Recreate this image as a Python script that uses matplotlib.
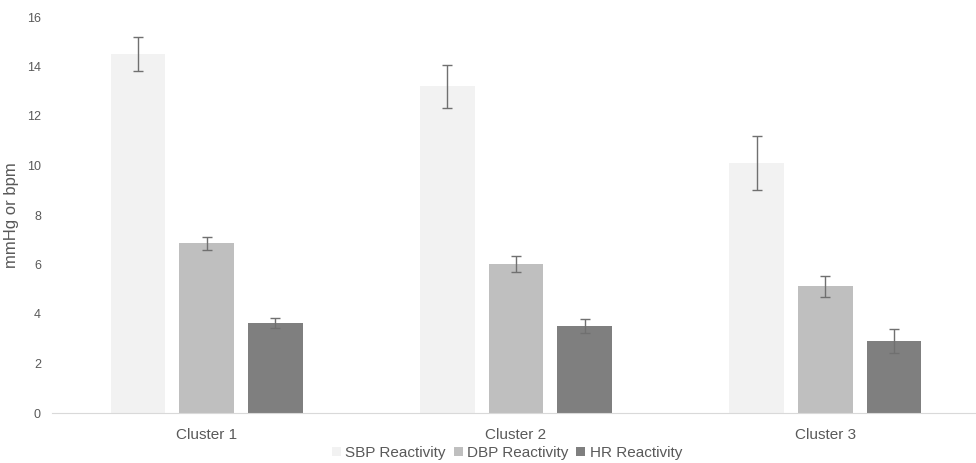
import numpy as np
import matplotlib.pyplot as plt

plt.rcParams['font.family'] = ['Liberation Sans', 'DejaVu Sans']

clusters = ['Cluster 1', 'Cluster 2', 'Cluster 3']
series = ['SBP Reactivity', 'DBP Reactivity', 'HR Reactivity']
sbp = [14.5, 13.2, 10.1]
sbp_err = [0.7, 0.88, 1.1]
dbp = [6.86, 6.02, 5.12]
dbp_err = [0.27, 0.31, 0.43]
hr = [3.62, 3.53, 2.91]
hr_err = [0.2, 0.28, 0.47]
colors = ['#f2f2f2', '#bfbfbf', '#7f7f7f']

text_col = '#595959'

fig = plt.figure(figsize=(9.76, 4.63), dpi=100)
ax = fig.add_axes([52 / 976, 50 / 463, 928 / 976, 396 / 463])

x = np.arange(len(clusters))
width = 0.176
step = 0.222
for i, (vals, errs) in enumerate([(sbp, sbp_err), (dbp, dbp_err), (hr, hr_err)]):
    ax.bar(x + (i - 1) * step, vals, width, color=colors[i], label=series[i],
           yerr=errs, capsize=3.5,
           error_kw=dict(ecolor='#707070', elinewidth=1.0, capthick=1.0))

ax.set_xlim(-0.5, 2.5)
ax.set_ylim(0, 16)
ax.set_yticks(np.arange(0, 17, 2))
ax.set_xticks(x)
ax.set_xticklabels(clusters, fontsize=11, color=text_col)
ax.tick_params(axis='y', length=0, labelsize=9, colors=text_col, pad=8)
ax.tick_params(axis='x', length=0, pad=11)

for s in ['top', 'right', 'left']:
    ax.spines[s].set_visible(False)
ax.spines['bottom'].set_color('#d9d9d9')

ax.set_ylabel('mmHg or bpm', fontsize=12, color=text_col, labelpad=6)

ax.legend(loc='center', bbox_to_anchor=(507 / 976, 10 / 463), bbox_transform=fig.transFigure,
          ncol=3, frameon=False, fontsize=11, labelcolor=text_col,
          handlelength=0.6, handleheight=0.6, handletextpad=0.3, columnspacing=0.5,
          borderpad=0)

fig.savefig('out.png', dpi=100)
